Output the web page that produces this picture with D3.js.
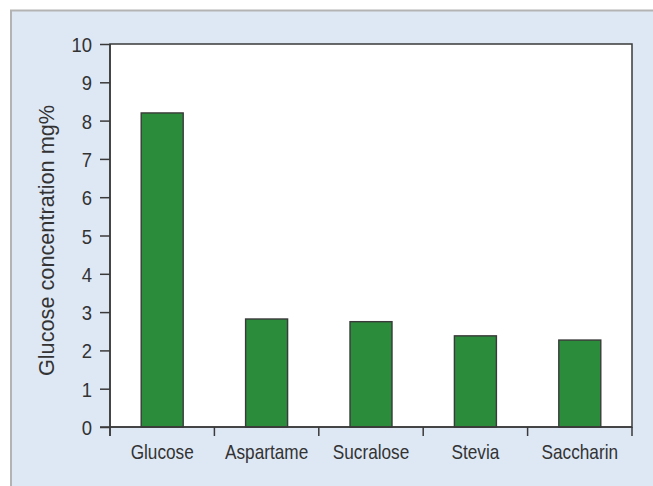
<!DOCTYPE html>
<html><head><meta charset="utf-8">
<script src="https://cdn.jsdelivr.net/npm/d3@7"></script>
<style>html,body{margin:0;padding:0;background:#fff;}svg{display:block;}</style>
</head><body>
<script>
const categories = ["Glucose","Aspartame","Sucralose","Stevia","Saccharin"];
const values = [8.2, 2.82, 2.75, 2.38, 2.27];
const yTicks = [0,1,2,3,4,5,6,7,8,9,10];
const yLabel = "Glucose concentration mg%";

const W = 653, H = 486;
const m = {left:110, right:653-632, top:44, bottom:486-427};
const svg = d3.select("body").append("svg").attr("width",W).attr("height",H);
const font = "'Liberation Sans',Arial,sans-serif";
const ink = "#3a3a3a";

svg.append("rect").attr("x",11).attr("y",10.5).attr("width",W).attr("height",H)
  .attr("fill","#dee8f5").attr("stroke","#b3b3b3").attr("stroke-width",2);

const xb = d3.scaleBand().domain(categories).range([m.left, W-m.right]);
const y = d3.scaleLinear().domain([0,10]).range([H-m.bottom, m.top]);

svg.append("rect").attr("x",m.left).attr("y",m.top).attr("width",W-m.right-m.left).attr("height",H-m.bottom-m.top)
  .attr("fill","#fff").attr("stroke",ink).attr("stroke-width",1.5);

svg.selectAll(".bar").data(values).join("rect").attr("class","bar")
  .attr("x",(d,i)=>xb(categories[i])+xb.bandwidth()/2-21)
  .attr("width",42)
  .attr("y",d=>y(d)).attr("height",d=>y(0)-y(d))
  .attr("fill","#2b8c3c").attr("stroke",ink).attr("stroke-width",1.4);

// y axis
const ys = 0.88;
const ya = svg.append("g").attr("transform",`translate(${m.left},0)`)
  .call(d3.axisLeft(y).tickValues(yTicks).tickSize(10).tickPadding(6).tickFormat(d3.format("d")));
ya.select(".domain").attr("stroke",ink).attr("stroke-width",1.5).attr("d",`M0,${m.top}V${H-m.bottom+9}`);
ya.selectAll(".tick line").attr("stroke",ink).attr("stroke-width",1.5);
ya.selectAll(".tick text").attr("fill","#333").style("font-family",font).style("font-size","21px")
  .attr("x",-18/ys).attr("dy","0.36em").attr("transform",`scale(${ys},1)`);

// x axis
const xs = 0.82;
const xa = svg.append("g").attr("transform",`translate(0,${H-m.bottom})`)
  .call(d3.axisBottom(xb).tickSize(0));
xa.select(".domain").attr("stroke",ink).attr("stroke-width",1.5).attr("d",`M${m.left-10},0H${W-m.right}`);
xa.selectAll(".tick text").attr("fill","#333").style("font-family",font).style("font-size","21px")
  .attr("y",32).attr("dy",0).attr("transform",`scale(${xs},1)`);
const bounds = categories.map(c=>xb(c)).concat([W-m.right]);
xa.selectAll(".bnd").data(bounds).join("line").attr("class","bnd")
  .attr("x1",d=>d).attr("x2",d=>d).attr("y1",0).attr("y2",9)
  .attr("stroke",ink).attr("stroke-width",1.5);

svg.append("text").attr("transform",`translate(53.5,240.5) rotate(-90)`)
  .attr("text-anchor","middle").attr("fill","#333")
  .style("font-family",font).style("font-size","21.7px").text(yLabel);
</script>
</body></html>
